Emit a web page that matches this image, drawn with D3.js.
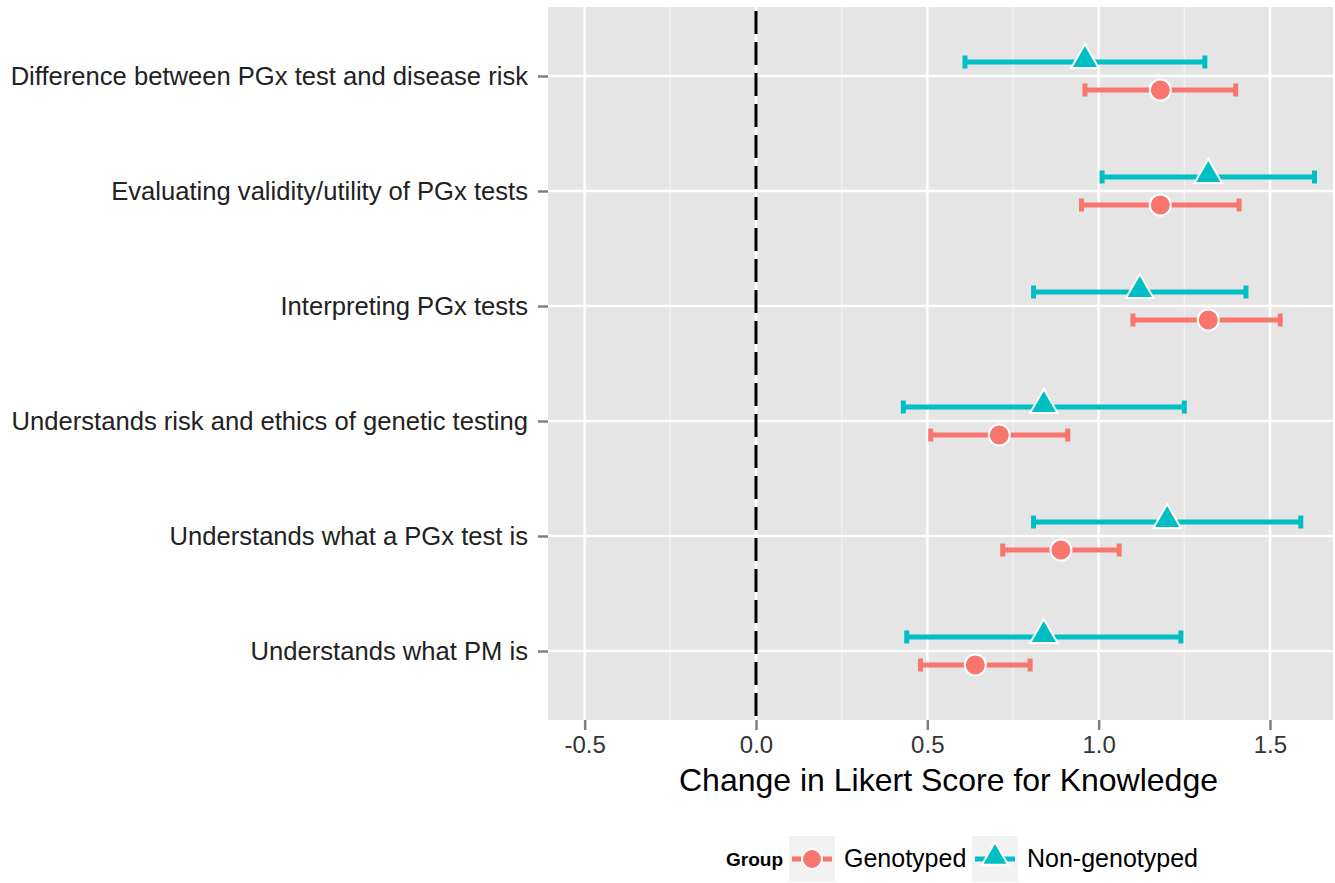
<!DOCTYPE html>
<html>
<head>
<meta charset="utf-8">
<script src="https://cdn.jsdelivr.net/npm/d3@7"></script>
<style>
  body { margin: 0; background: #fff; }
  text { font-family: "Liberation Sans", Arial, sans-serif; }
</style>
</head>
<body>
<div id="chart"></div>
<script>
// categories top to bottom
var categories = [
  "Difference between PGx test and disease risk",
  "Evaluating validity/utility of PGx tests",
  "Interpreting PGx tests",
  "Understands risk and ethics of genetic testing",
  "Understands what a PGx test is",
  "Understands what PM is"
];
var groups = ["Genotyped", "Non-genotyped"];

var genoMean  = [1.18, 1.18, 1.32, 0.71, 0.89, 0.64];
var genoLow   = [0.96, 0.95, 1.10, 0.51, 0.72, 0.48];
var genoHigh  = [1.40, 1.41, 1.53, 0.91, 1.06, 0.80];

var nonMean   = [0.96, 1.32, 1.12, 0.84, 1.20, 0.84];
var nonLow    = [0.61, 1.01, 0.81, 0.43, 0.81, 0.44];
var nonHigh   = [1.31, 1.63, 1.43, 1.25, 1.59, 1.24];

var xTicks = [-0.5, 0.0, 0.5, 1.0, 1.5];
var xMinor = [-0.25, 0.25, 0.75, 1.25];

var colors = { "Genotyped": "#F8766D", "Non-genotyped": "#00BFC4" };

var W = 1335, H = 883;
var panel = { left: 548, right: 1333, top: 7, bottom: 720 };

var svg = d3.select("#chart").append("svg")
    .attr("width", W)
    .attr("height", H);

var x = d3.scaleLinear()
    .domain([-0.607, 1.684])
    .range([panel.left, panel.right]);

var y = d3.scalePoint()
    .domain(categories)
    .range([panel.top, panel.bottom])
    .padding(0.6);

// background
svg.append("rect")
    .attr("x", panel.left)
    .attr("y", panel.top)
    .attr("width", panel.right - panel.left)
    .attr("height", panel.bottom - panel.top)
    .attr("fill", "#E5E5E5");

// minor grid
svg.selectAll(".minor").data(xMinor).enter().append("line")
    .attr("x1", function (d) { return x(d); })
    .attr("x2", function (d) { return x(d); })
    .attr("y1", panel.top).attr("y2", panel.bottom)
    .attr("stroke", "#F2F2F2").attr("stroke-width", 1.2);

// major grid
svg.selectAll(".majorx").data(xTicks).enter().append("line")
    .attr("x1", function (d) { return x(d); })
    .attr("x2", function (d) { return x(d); })
    .attr("y1", panel.top).attr("y2", panel.bottom)
    .attr("stroke", "#fff").attr("stroke-width", 2.5);

svg.selectAll(".majory").data(categories).enter().append("line")
    .attr("x1", panel.left).attr("x2", panel.right)
    .attr("y1", function (d) { return y(d); })
    .attr("y2", function (d) { return y(d); })
    .attr("stroke", "#fff").attr("stroke-width", 2.5);

// zero line
svg.append("line")
    .attr("x1", x(0)).attr("x2", x(0))
    .attr("y1", panel.top + 4).attr("y2", panel.bottom)
    .attr("stroke", "#000").attr("stroke-width", 3)
    .attr("stroke-dasharray", "23,8");

// axes
var xAxis = svg.append("g")
    .attr("transform", "translate(0," + panel.bottom + ")")
    .call(d3.axisBottom(x).tickValues(xTicks)
      .tickFormat(function (d) { return d3.format(".1f")(d).replace("\u2212", "-"); })
      .tickSizeInner(10).tickSizeOuter(0).tickPadding(6));
xAxis.select(".domain").remove();
xAxis.selectAll("line").attr("stroke", "#7f7f7f").attr("stroke-width", 2.5);
xAxis.selectAll("text").attr("font-size", 24).attr("fill", "#333").attr("font-family", "Liberation Sans, Arial, sans-serif");

var yAxis = svg.append("g")
    .attr("transform", "translate(" + panel.left + ",0)")
    .call(d3.axisLeft(y).tickSizeInner(10).tickSizeOuter(0).tickPadding(10));
yAxis.select(".domain").remove();
yAxis.selectAll("line").attr("stroke", "#7f7f7f").attr("stroke-width", 2.5);
yAxis.selectAll("text").attr("font-size", 25.6).attr("fill", "#222").attr("font-family", "Liberation Sans, Arial, sans-serif");

svg.append("text")
    .attr("x", (panel.left + panel.right) / 2 + 8)
    .attr("y", 791)
    .attr("text-anchor", "middle")
    .attr("font-size", 32)
    .attr("fill", "#000")
    .text("Change in Likert Score for Knowledge");

// build rows
var rows = [];
categories.forEach(function (c, i) {
  rows.push({ cat: c, group: "Non-genotyped", mean: nonMean[i], lo: nonLow[i], hi: nonHigh[i], dy: -14 });
  rows.push({ cat: c, group: "Genotyped", mean: genoMean[i], lo: genoLow[i], hi: genoHigh[i], dy: 14 });
});

var capH = 13;
var g = svg.append("g");
rows.forEach(function (r) {
  var cy = y(r.cat) + r.dy;
  var col = colors[r.group];
  g.append("line")
      .attr("x1", x(r.lo)).attr("x2", x(r.hi))
      .attr("y1", cy).attr("y2", cy)
      .attr("stroke", col).attr("stroke-width", 5);
  [r.lo, r.hi].forEach(function (v) {
    g.append("line")
        .attr("x1", x(v)).attr("x2", x(v))
        .attr("y1", cy - capH / 2).attr("y2", cy + capH / 2)
        .attr("stroke", col).attr("stroke-width", 5);
  });
});

function drawPoint(sel, group, cx, cy, scale) {
  var s = scale || 1;
  if (group === "Genotyped") {
    sel.append("circle")
        .attr("cx", cx).attr("cy", cy).attr("r", 10.5 * s)
        .attr("fill", colors[group])
        .attr("stroke", "#fff").attr("stroke-width", 2);
  } else {
    sel.append("path")
        .attr("d", d3.symbol().type(d3.symbolTriangle).size(330 * s * s))
        .attr("transform", "translate(" + cx + "," + (cy - 2 * s) + ")")
        .attr("fill", colors[group])
        .attr("stroke", "#fff").attr("stroke-width", 2);
  }
}

rows.forEach(function (r) {
  drawPoint(g, r.group, x(r.mean), y(r.cat) + r.dy);
});

// legend
var legY = 859;
svg.append("text")
    .attr("x", 783).attr("y", legY + 7)
    .attr("text-anchor", "end")
    .attr("font-size", 19)
    .attr("font-weight", "bold")
    .text("Group");

var keyX = [789, 972];
groups.forEach(function (grp, i) {
  var kx = keyX[i];
  svg.append("rect")
      .attr("x", kx).attr("y", legY - 23)
      .attr("width", 46).attr("height", 46)
      .attr("fill", "#F2F2F2");
  svg.append("line")
      .attr("x1", kx + 3).attr("x2", kx + 43)
      .attr("y1", legY).attr("y2", legY)
      .attr("stroke", colors[grp]).attr("stroke-width", 5);
  drawPoint(svg, grp, kx + 23, legY, 0.95);
  svg.append("text")
      .attr("x", kx + 55).attr("y", legY + 8)
      .attr("font-size", 25)
      .attr("fill", "#000")
      .text(grp);
});
</script>
</body>
</html>
